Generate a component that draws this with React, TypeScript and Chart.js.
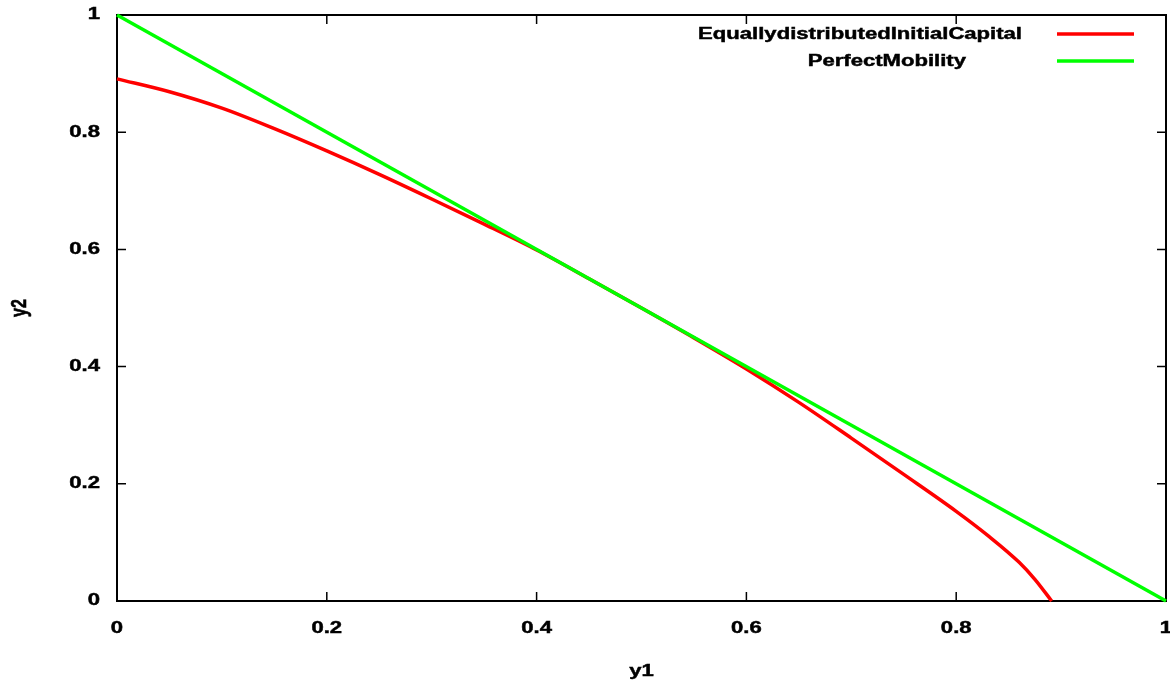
import React, { useEffect, useRef } from "react";
import { Chart, registerables } from "chart.js";

Chart.register(...registerables);

// ---- data ----
const seriesNames = ["EquallydistributedInitialCapital", "PerfectMobility"];
const seriesColors = ["#ff0000", "#00ff00"];

const capitalY1 = [0, 0.05, 0.1, 0.15, 0.2, 0.25, 0.3, 0.35, 0.4, 0.45, 0.5, 0.55, 0.6, 0.65, 0.7, 0.75, 0.8, 0.83, 0.86, 0.875, 0.891];
const capitalY2 = [0.891, 0.869, 0.841, 0.806, 0.768, 0.728, 0.686, 0.643, 0.599, 0.55, 0.5, 0.449, 0.396, 0.339, 0.278, 0.216, 0.153, 0.112, 0.066, 0.037, 0];

const mobilityY1 = [0, 1];
const mobilityY2 = [1, 0];

const xTickValues = [0, 0.2, 0.4, 0.6, 0.8, 1];
const xTickLabels = ["0", "0.2", "0.4", "0.6", "0.8", "1"];
const yTickValues = [0, 0.2, 0.4, 0.6, 0.8, 1];
const yTickLabels = ["0", "0.2", "0.4", "0.6", "0.8", "1"];

const xTitle = "y1";
const yTitle = "y2";

// ---- drawing helpers ----
const FONT = 'bold 16px "Liberation Sans", Arial, sans-serif';
const SX = 1.38;

function drawText(ctx: CanvasRenderingContext2D, text: string, x: number, y: number, align: CanvasTextAlign, rotated = false) {
  ctx.save();
  ctx.translate(x, y);
  ctx.scale(SX, 1);
  if (rotated) ctx.rotate(-Math.PI / 2);
  ctx.textAlign = align;
  ctx.textBaseline = "middle";
  ctx.fillStyle = "#000";
  ctx.strokeStyle = "#000";
  ctx.lineWidth = 0.45;
  ctx.fillText(text, 0, 0);
  ctx.strokeText(text, 0, 0);
  ctx.restore();
}

const gnuplotFrame = {
  id: "gnuplotFrame",
  beforeDatasetsDraw(chart: any) {
    const { ctx, chartArea: a, scales } = chart;
    const xs = scales.x;
    const ys = scales.y;
    ctx.save();
    ctx.strokeStyle = "#000";
    ctx.lineWidth = 2;
    ctx.strokeRect(a.left, a.top, a.right - a.left, a.bottom - a.top);

    const L = 9;
    ctx.lineWidth = 1.5;
    ctx.beginPath();
    xTickValues.forEach((v) => {
      const px = xs.getPixelForValue(v);
      ctx.moveTo(px, a.bottom);
      ctx.lineTo(px, a.bottom - L);
      ctx.moveTo(px, a.top);
      ctx.lineTo(px, a.top + L);
    });
    yTickValues.forEach((v) => {
      const py = ys.getPixelForValue(v);
      ctx.moveTo(a.left, py);
      ctx.lineTo(a.left + L, py);
      ctx.moveTo(a.right, py);
      ctx.lineTo(a.right - L, py);
    });
    ctx.stroke();

    ctx.font = FONT;
    xTickLabels.forEach((t, i) => drawText(ctx, t, xs.getPixelForValue(xTickValues[i]), a.bottom + 28, "center"));
    yTickLabels.forEach((t, i) => drawText(ctx, t, a.left - 17, ys.getPixelForValue(yTickValues[i]), "right"));

    drawText(ctx, xTitle, (a.left + a.right) / 2, a.bottom + 71, "center");
    drawText(ctx, yTitle, 20, (a.top + a.bottom) / 2, "center", true);

    // legend (gnuplot style, top-right, inside)
    const textRight = [1022, 966];
    const rowY = [35, 62];
    seriesNames.forEach((name, i) => {
      drawText(ctx, name, textRight[i], rowY[i], "right");
      ctx.strokeStyle = seriesColors[i];
      ctx.lineWidth = 3.5;
      ctx.beginPath();
      ctx.moveTo(1057, rowY[i] - 1);
      ctx.lineTo(1134, rowY[i] - 1);
      ctx.stroke();
    });
    ctx.restore();
  },
};

export default function App() {
  const canvasRef = useRef<HTMLCanvasElement | null>(null);

  useEffect(() => {
    if (!canvasRef.current) return;
    const chart = new Chart(canvasRef.current, {
      type: "scatter",
      data: {
        datasets: [
          {
            label: seriesNames[0],
            data: capitalY1.map((x, i) => ({ x, y: capitalY2[i] })),
            showLine: true,
            borderColor: seriesColors[0],
            backgroundColor: seriesColors[0],
            borderWidth: 3.5,
            pointRadius: 0,
            cubicInterpolationMode: "monotone",
            clip: false as any,
            order: 1,
          },
          {
            label: seriesNames[1],
            data: mobilityY1.map((x, i) => ({ x, y: mobilityY2[i] })),
            showLine: true,
            borderColor: seriesColors[1],
            backgroundColor: seriesColors[1],
            borderWidth: 3.5,
            pointRadius: 0,
            clip: false as any,
            order: 0,
          },
        ],
      },
      options: {
        animation: false,
        responsive: true,
        maintainAspectRatio: false,
        layout: { padding: { top: 15, right: 4, left: 0, bottom: 0 } },
        plugins: {
          legend: { display: false },
          tooltip: { enabled: false },
        },
        scales: {
          x: {
            type: "linear",
            min: 0,
            max: 1,
            grid: { display: false },
            border: { display: false },
            ticks: { display: false, stepSize: 0.2 },
            afterFit: (s: any) => {
              s.height = 82;
            },
          },
          y: {
            type: "linear",
            min: 0,
            max: 1,
            grid: { display: false },
            border: { display: false },
            ticks: { display: false, stepSize: 0.2 },
            afterFit: (s: any) => {
              s.width = 117;
            },
          },
        },
      },
      plugins: [gnuplotFrame],
    });
    return () => chart.destroy();
  }, []);

  return (
    <div style={{ position: "fixed", left: 0, top: 0, width: 1170, height: 683, background: "#fff" }}>
      <canvas ref={canvasRef} />
    </div>
  );
}
